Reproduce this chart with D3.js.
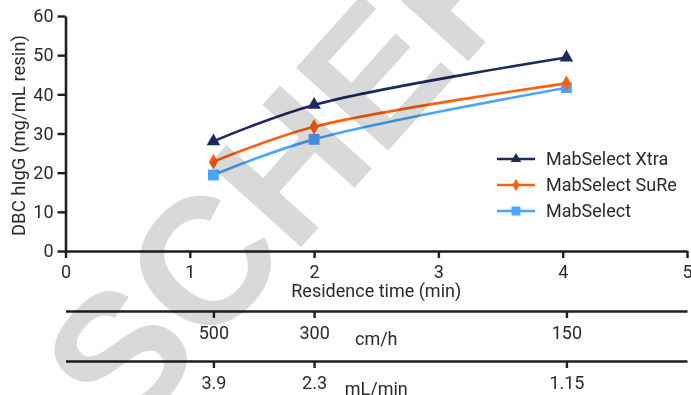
<!DOCTYPE html>
<html><head><meta charset="utf-8">
<script src="https://cdn.jsdelivr.net/npm/d3@7"></script>
<style>
body{margin:0;background:#fff;overflow:hidden}
text{font-family:Roboto,"Liberation Sans",sans-serif}
</style>
</head><body><svg id="c" width="691" height="395"></svg>
<script>
// ---- data ----
const residenceTime = [1.19, 2.0, 4.03];
const seriesNames = ["MabSelect Xtra", "MabSelect SuRe", "MabSelect"];
const xtraValues = [28.0, 37.3, 49.4];
const sureValues = [22.8, 31.7, 42.8];
const mabselectValues = [19.4, 28.5, 41.7];
const xTickValues = [0, 1, 2, 3, 4, 5];
const yTickValues = [0, 10, 20, 30, 40, 50, 60];
const velocityLabels = ["500", "300", "150"];
const flowLabels = ["3.9", "2.3", "1.15"];
const watermarkText = "SCHER";

// ---- styles ----
const colors = ["#1c2a5e", "#ff6010", "#4aa5ff"];
const symbols = [d3.symbolTriangle, d3.symbolDiamond, d3.symbolSquare];
const symSizes = [80, 72, 118];
const legSizes = [48, 44, 80];
const axisColor = "#1e1e1e", textColor = "#2a2a2a";

const svg = d3.select("#c");
const x = d3.scaleLinear().domain([0, 5]).range([65.5, 687]);
const y = d3.scaleLinear().domain([0, 60]).range([251, 16]);

function styleAxis(g) {
  g.select(".domain").attr("stroke", axisColor).attr("stroke-width", 2.6);
  g.selectAll(".tick line").attr("stroke", axisColor).attr("stroke-width", 2.4);
  g.selectAll(".tick text").attr("fill", textColor).style("font-size", "18px")
    .style("font-family", "Roboto");
}

// y axis
svg.append("g").attr("transform", `translate(${x(0)},0)`)
  .call(d3.axisLeft(y).tickValues(yTickValues).tickFormat(d3.format("d"))
    .tickSize(8).tickPadding(4).tickSizeOuter(0))
  .call(styleAxis);
// x axis
svg.append("g").attr("transform", `translate(0,${y(0)})`)
  .call(d3.axisBottom(x).tickValues(xTickValues).tickFormat(d3.format("d"))
    .tickSize(7).tickPadding(7).tickSizeOuter(0))
  .call(styleAxis);

// secondary axes
svg.append("g").attr("transform", "translate(0,311)")
  .call(d3.axisBottom(x).tickValues(residenceTime).tickFormat((d, i) => velocityLabels[i])
    .tickSize(7).tickPadding(8).tickSizeOuter(0))
  .call(styleAxis);
svg.append("g").attr("transform", "translate(0,361)")
  .call(d3.axisBottom(x).tickValues(residenceTime).tickFormat((d, i) => flowLabels[i])
    .tickSize(7).tickPadding(8).tickSizeOuter(0))
  .call(styleAxis);

// titles
svg.append("text").attr("x", (x(0) + x(5)) / 2).attr("y", 296.5).attr("text-anchor", "middle")
  .attr("fill", textColor).style("font-size", "18px").text("Residence time (min)");
svg.append("text").attr("x", (x(0) + x(5)) / 2).attr("y", 345).attr("text-anchor", "middle")
  .attr("fill", textColor).style("font-size", "18px").text("cm/h");
svg.append("text").attr("x", (x(0) + x(5)) / 2).attr("y", 394.5).attr("text-anchor", "middle")
  .attr("fill", textColor).style("font-size", "18px").text("mL/min");
svg.append("text").attr("transform", "translate(25,135.5) rotate(-90)").attr("text-anchor", "middle")
  .attr("fill", textColor).style("font-size", "18.5px").text("DBC hIgG (mg/mL resin)");

// series
const series = [xtraValues, sureValues, mabselectValues].map((vals, i) => ({
  name: seriesNames[i], color: colors[i], symbol: symbols[i], size: symSizes[i],
  pts: vals.map((v, j) => [residenceTime[j], v])
}));
const line = d3.line().x(d => x(d[0])).y(d => y(d[1])).curve(d3.curveCatmullRom.alpha(0.5));
const gS = svg.append("g");
series.slice().reverse().forEach(s => {
  gS.append("path").attr("d", line(s.pts)).attr("fill", "none")
    .attr("stroke", s.color).attr("stroke-width", 2.6);
});
series.slice().reverse().forEach(s => {
  gS.selectAll(null).data(s.pts).join("path")
    .attr("transform", d => `translate(${x(d[0])},${y(d[1])})`)
    .attr("d", d3.symbol(s.symbol, s.size)).attr("fill", s.color);
});

// legend
const leg = svg.append("g");
series.forEach((s, i) => {
  const yy = 159 + i * 26;
  leg.append("line").attr("x1", 497).attr("x2", 535).attr("y1", yy).attr("y2", yy)
    .attr("stroke", s.color).attr("stroke-width", 2.6);
  leg.append("path").attr("transform", `translate(516,${yy})`)
    .attr("d", d3.symbol(s.symbol, legSizes[i])).attr("fill", s.color);
  leg.append("text").attr("x", 546).attr("y", yy + 6.4).attr("fill", textColor)
    .style("font-size", "18px").text(s.name);
});

// watermark
svg.append("text")
  .attr("transform", "translate(290,166) rotate(-48)")
  .attr("text-anchor", "middle").attr("dominant-baseline", "central")
  .style("font-family", "'Liberation Sans', Arial, sans-serif")
  .style("font-weight", "bold").style("font-size", "180px")
  .style("mix-blend-mode", "multiply")
  .attr("fill", "#d9d9d9").text(watermarkText);
</script>
</body></html>
